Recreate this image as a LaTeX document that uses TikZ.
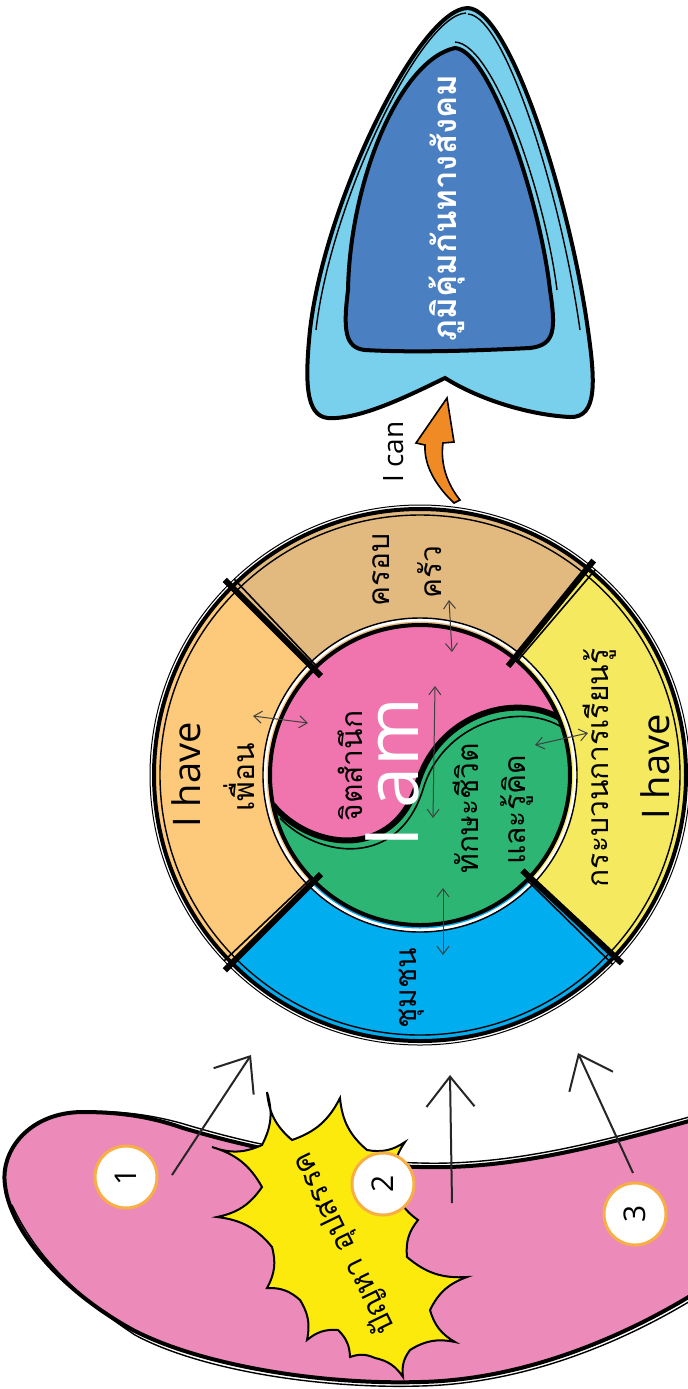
\documentclass[tikz,border=0pt]{standalone}
\usepackage{fontspec}
\setmainfont{Open Sans}
\newfontfamily\thaifont[Script=Thai]{Loma}
\usetikzlibrary{arrows.meta,calc}
\definecolor{ringorange}{HTML}{FDC97A}
\definecolor{ringtan}{HTML}{E2BA80}
\definecolor{ringyellow}{HTML}{F5E960}
\definecolor{ringblue}{HTML}{00ADEF}
\definecolor{corepink}{HTML}{F075AE}
\definecolor{coregreen}{HTML}{2DB673}
\definecolor{blobpink}{HTML}{EC8BB9}
\definecolor{burstyellow}{HTML}{FBEA0B}
\definecolor{shieldlight}{HTML}{79D0EC}
\definecolor{shielddark}{HTML}{4A7FC1}
\definecolor{arroworange}{HTML}{F08A24}
\definecolor{numorange}{HTML}{F7AE45}
\begin{document}
\begin{tikzpicture}[x=0.5pt,y=-0.5pt,
  thailbl/.style={rotate=90, inner sep=0pt, font=\thaifont\fontsize{15}{18}\selectfont},
  latinlbl/.style={rotate=90, inner sep=0pt, font=\fontsize{19}{22}\selectfont},
  dblarrow/.style={{Straight Barb[length=4pt,width=6pt]}-{Straight Barb[length=4pt,width=6pt]}, line width=0.5pt, draw=black!75},
  bigarrow/.style={-{Straight Barb[length=15pt,width=24pt]}, line width=1pt, draw=black!85},
  numc/.style={circle, fill=white, draw=numorange, line width=1.5pt, minimum size=31pt, inner sep=0pt, font=\fontsize{15}{15}\selectfont, rotate=90},
  outline/.style={draw=black, line width=2pt},
  thinline/.style={draw=black, line width=0.7pt},
  sc/.style={bend right=22}
]
\useasboundingbox (0,0) rectangle (688,1389);
\coordinate (C) at (420,775);

% ---------- bottom blob ----------
\def\blobpath{(83,1112) .. controls (130,1112) and (160,1120) .. (183,1128) .. controls (250,1148) and (330,1165) .. (420,1167) .. controls (520,1170) and (620,1140) .. (700,1118) -- (700,1290) .. controls (620,1340) and (520,1380) .. (420,1382) .. controls (320,1385) and (200,1365) .. (133,1330) .. controls (60,1290) and (10,1230) .. (5,1185) .. controls (0,1150) and (30,1112) .. (83,1112) -- cycle}
\fill[blobpink] \blobpath;
\draw[outline] \blobpath;
\draw[thinline] (60,1115) .. controls (100,1107) and (150,1114) .. (184,1124) .. controls (250,1144) and (330,1161) .. (420,1163) .. controls (520,1166) and (620,1136) .. (700,1114);
\draw[thinline] (12,1205) .. controls (35,1255) and (75,1295) .. (135,1335) .. controls (200,1370) and (320,1389) .. (420,1386) .. controls (520,1384) and (620,1345) .. (700,1295);

% ---------- burst ----------
\def\burstpath{(267,1092) to[sc] (292,1140) to[sc] (340,1098) to[sc] (367,1150) to[sc] (405,1142) to[sc] (395,1185) to[sc] (418,1220) to[sc] (407,1257) to[sc] (467,1277) to[sc] (430,1310) to[sc] (455,1342) to[sc] (410,1350) to[sc] (403,1377) to[sc] (375,1358) to[sc] (350,1357) to[sc] (338,1330) to[sc] (307,1340) to[sc] (300,1300) to[sc] (267,1288) to[sc] (272,1247) to[sc] (217,1217) to[sc] (262,1187) to[sc] (212,1147) to[sc] (262,1145) to[sc] (267,1092) -- cycle}
\fill[burstyellow] \burstpath;
\draw[draw=black, line width=1pt, line join=miter] \burstpath;
\node[rotate=116, inner sep=0pt, font=\thaifont\fontsize{15}{18}\selectfont] (burst) at (345,1243) {ปัญหา อุปสรรค};

% ---------- numbered circles ----------
\node[numc] (n1) at (126,1177) {1};
\node[numc] (n2) at (383,1184) {2};
\node[numc] (n3) at (635,1214) {3};

% ---------- arrows from blob to ring ----------
\coordinate (t1) at (172,1175); \coordinate (h1) at (251,1055);
\coordinate (t2) at (452,1203); \coordinate (h2) at (450,1075);
\coordinate (t3) at (633,1173); \coordinate (h3) at (578,1053);
\draw[bigarrow] (t1) -- (h1);
\draw[bigarrow] (t2) -- (h2);
\draw[bigarrow] (t3) -- (h3);

% ---------- ring ----------
\begin{scope}
\clip (C) circle[radius=266];
\fill[ringyellow] (C) -- ($(C)+(-51:600)$) -- ($(C)+(43:600)$) -- cycle;
\fill[ringblue] (C) -- ($(C)+(43:600)$) -- ($(C)+(135:600)$) -- cycle;
\fill[ringorange] (C) -- ($(C)+(135:600)$) -- ($(C)+(225:600)$) -- cycle;
\fill[ringtan] (C) -- ($(C)+(225:600)$) -- ($(C)+(309:600)$) -- cycle;
\end{scope}
\draw[outline] (C) circle[radius=266];
\draw[thinline] (C) circle[radius=260];
\draw[draw=black, line width=0.5pt] (C) circle[radius=270];

% ---------- core yin-yang ----------
\begin{scope}
\clip (C) circle[radius=150];
\fill[coregreen] (C) circle[radius=150];
\fill[corepink] (273,805) .. controls (310,850) and (395,862) .. (418,782) .. controls (440,712) and (520,690) .. (566,722) -- (700,700) -- (700,550) -- (150,550) -- (150,820) -- cycle;
\draw[draw=black, line width=3pt] (273,805) .. controls (310,850) and (395,862) .. (418,782) .. controls (440,712) and (520,690) .. (566,722);
\draw[draw=black, line width=0.8pt] (280,818) .. controls (318,858) and (400,870) .. (424,786) .. controls (446,720) and (525,700) .. (566,730);
\end{scope}
\draw[draw=white, line width=1.5pt] (C) circle[radius=155];
\draw[outline] (C) circle[radius=150];
\draw[thinline] (C) circle[radius=157];

% ---------- dividers ----------
\foreach \a in {-51,43,135,225}{
  \draw[draw=black, line width=3pt] ($(C)+(\a:140)$) -- ($(C)+(\a:276)$);
  \draw[draw=black, line width=0.8pt] ($(C)+(\a+1.5:150)$) -- ($(C)+(\a+1.5:270)$);
}

% ---------- labels ----------
\node[latinlbl] (have1) at (186,775) {I have};
\node[thailbl] (friend) at (239,777) {เพื่อน};
\node[thailbl] (fam1) at (381,570) {ครอบ};
\node[thailbl] (fam2) at (430,572) {ครัว};
\node[thailbl] (comm) at (412,988) {ชุมชน};
\node[thailbl] (learn) at (600,768) {กระบวนการเรียนรู้};
\node[latinlbl] (have2) at (655,767) {I have};
\node[thailbl] (consc) at (350,766) {จิตสำนึก};
\node[thailbl] (skill) at (466,808) {ทักษะชีวิต};
\node[thailbl] (think) at (517,810) {และรู้คิด};
\node[rotate=90, inner sep=0pt, text=white, font=\fontsize{37}{40}\selectfont] (iam) at (392,773) {I am};

% ---------- small double arrows ----------
\coordinate (a1s) at (253,716); \coordinate (a1e) at (308,723);
\coordinate (a2s) at (449,600); \coordinate (a2e) at (452,652);
\coordinate (a3s) at (535,745); \coordinate (a3e) at (588,733);
\coordinate (a4s) at (443,888); \coordinate (a4e) at (443,955);
\coordinate (a5s) at (435,686); \coordinate (a5e) at (433,818);
\draw[dblarrow] (a1s) -- (a1e);
\draw[dblarrow] (a2s) -- (a2e);
\draw[dblarrow] (a3s) -- (a3e);
\draw[dblarrow] (a4s) -- (a4e);
\draw[dblarrow] (a5s) -- (a5e);

% ---------- I can + orange arrow ----------
\node[rotate=90, inner sep=0pt, font=\fontsize{14}{16}\selectfont] (ican) at (394,452) {I can};
\fill[arroworange, draw=black, line width=0.8pt] (447,398) -- (454,442) -- (443,443) .. controls (440,465) and (448,485) .. (460,500) -- (454,503) .. controls (435,485) and (424,465) .. (425,445) -- (416,443) -- cycle;

% ---------- shield ----------
\def\shieldout{(468,8) .. controls (510,10) and (570,200) .. (588,330) .. controls (595,380) and (598,418) .. (570,417) .. controls (530,415) and (480,400) .. (445,378) .. controls (410,395) and (360,420) .. (328,418) .. controls (305,416) and (305,380) .. (310,330) .. controls (325,200) and (420,8) .. (468,8) -- cycle}
\def\shieldin{(455,48) .. controls (490,50) and (540,200) .. (550,290) .. controls (556,330) and (555,345) .. (530,348) .. controls (450,352) and (400,352) .. (365,350) .. controls (345,348) and (343,330) .. (348,290) .. controls (350,180) and (400,60) .. (455,48) -- cycle}
\fill[shieldlight] \shieldout;
\draw[outline] \shieldout;
\draw[thinline] (468,14) .. controls (506,16) and (562,200) .. (580,330);
\draw[thinline] (316,330) .. controls (330,205) and (420,15) .. (466,13);
\fill[shielddark] \shieldin;
\draw[outline] \shieldin;
\draw[thinline] (455,42) .. controls (495,44) and (546,200) .. (557,290);
\node[rotate=90, inner sep=0pt, text=white, font=\thaifont\bfseries\fontsize{16.5}{20}\selectfont] (immune) at (447,208) {ภูมิคุ้มกันทางสังคม};
\end{tikzpicture}
\end{document}
